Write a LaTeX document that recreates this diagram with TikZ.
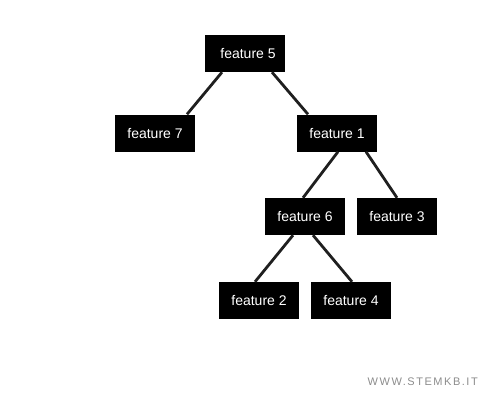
\documentclass[tikz,border=0pt]{standalone}
\usepackage{fontspec}
\setmainfont{Liberation Sans}
\newfontfamily\wmfont[LetterSpace=14]{Liberation Sans}
\begin{document}
\begin{tikzpicture}[x=1pt,y=-1pt,
  feat/.style={fill=black,text=white,minimum width=80pt,minimum height=37pt,inner sep=0pt,font=\fontsize{14}{16}\selectfont},
  edge/.style={draw=black!88,line width=2.8pt}]
\useasboundingbox (0,0) rectangle (500,400);
\node[feat] (f5) at (245,53.5) {\hspace{6pt}feature 5};
\node[feat] (f7) at (155,133) {feature 7};
\node[feat] (f1) at (337,133) {feature 1};
\node[feat] (f6) at (305,216.5) {feature 6};
\node[feat] (f3) at (397,216.5) {feature 3};
\node[feat] (f2) at (259,300.5) {feature 2};
\node[feat] (f4) at (351,300.5) {feature 4};
\draw[edge] ([xshift=-23pt]f5.south) -- ([xshift=32pt]f7.north);
\draw[edge] ([xshift=27pt]f5.south) -- ([xshift=-29pt]f1.north);
\draw[edge] ([xshift=1pt]f1.south) -- ([xshift=-2pt]f6.north);
\draw[edge] ([xshift=29pt]f1.south) -- ([xshift=0pt]f3.north);
\draw[edge] ([xshift=-12pt]f6.south) -- ([xshift=-4pt]f2.north);
\draw[edge] ([xshift=8pt]f6.south) -- ([xshift=1pt]f4.north);
\node[text=black!45,font=\wmfont\fontsize{11}{13}\selectfont,anchor=east,inner sep=0pt] (wm) at (478,382) {WWW.STEMKB.IT};
\end{tikzpicture}
\end{document}
